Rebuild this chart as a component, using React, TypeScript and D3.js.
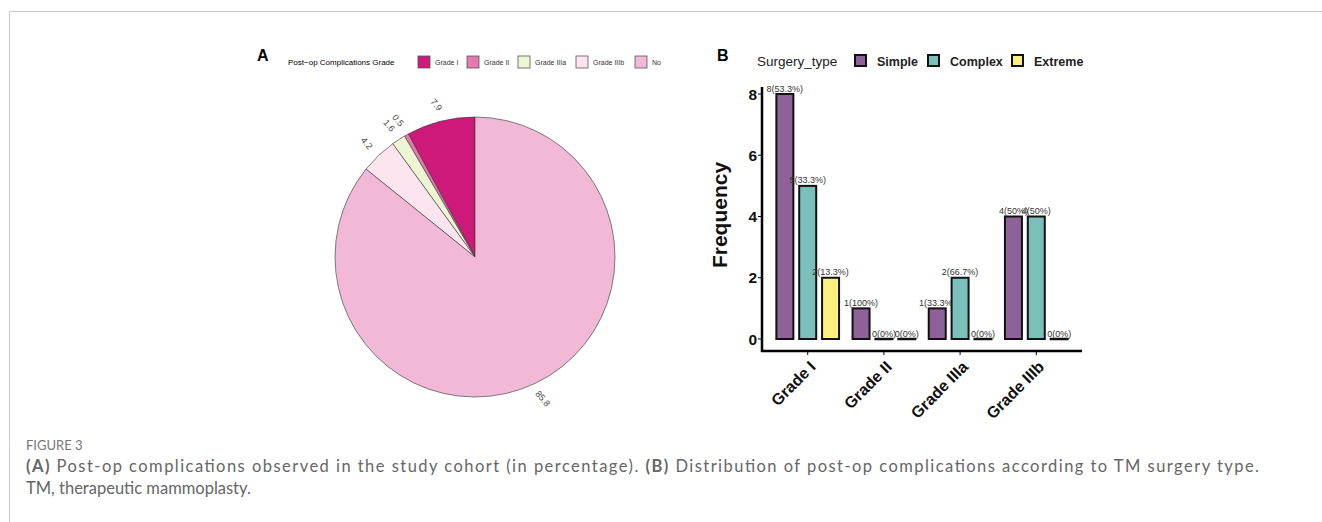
import React from 'react';
import * as d3 from 'd3';

// panel A: pie of complication grades (percent)
const pieGrades = ['Grade I', 'Grade II', 'Grade IIIa', 'Grade IIIb', 'No'];
const pieValues = [7.9, 0.5, 1.6, 4.2, 85.8];
const pieColors = ['#CD1A7A', '#E579AE', '#EEF5D4', '#FCE5EF', '#F1B9D6'];

// panel B: frequency by grade and surgery type
const barGrades = ['Grade I', 'Grade II', 'Grade IIIa', 'Grade IIIb'];
const surgeryTypes = ['Simple', 'Complex', 'Extreme'];
const simpleCounts = [8, 1, 1, 4];
const complexCounts = [5, 0, 2, 4];
const extremeCounts = [2, 0, 0, 0];
const simpleLabels = ['8(53.3%)', '1(100%)', '1(33.3%)', '4(50%)'];
const complexLabels = ['5(33.3%)', '0(0%)', '2(66.7%)', '4(50%)'];
const extremeLabels = ['2(13.3%)', '0(0%)', '0(0%)', '0(0%)'];
const typeColors = ['#8E6198', '#79C0BA', '#FBF07D'];
const yTicks = [0, 2, 4, 6, 8];

const W = 1322;
const H = 522;

const PiePanel = () => {
    const cx = 475;
    const cy = 257;
    const r = 140;
    const pie = d3
        .pie<number>()
        .sort(null)
        .startAngle(0)
        .endAngle(-2 * Math.PI);
    const arcs = pie(pieValues);
    const arc = d3.arc<d3.PieArcDatum<number>>().innerRadius(0).outerRadius(r);
    const labelArc = d3.arc<d3.PieArcDatum<number>>().innerRadius(157).outerRadius(157);

    const legendX = [418, 467, 518, 576, 635];

    return (
        <g>
            <text x={257} y={61} fontFamily="Arial, Liberation Sans, sans-serif" fontWeight="bold" fontSize={16}>A</text>
            <text x={288} y={65} fontFamily="Arial, Liberation Sans, sans-serif" fontSize={8}>Post−op Complications Grade</text>
            {pieGrades.map((g, i) => (
                <g key={g}>
                    <rect x={legendX[i]} y={56} width={12} height={12} fill={pieColors[i]} stroke="#555" strokeWidth={0.8} />
                    <text x={legendX[i] + 17} y={65} fontFamily="Arial, Liberation Sans, sans-serif" fontSize={7} fill="#333">{g}</text>
                </g>
            ))}
            <g transform={`translate(${cx},${cy})`}>
                {arcs.map((a, i) => (
                    <path key={i} d={arc(a) || ''} fill={pieColors[i]} stroke="#333" strokeWidth={0.6} />
                ))}
                {arcs.map((a, i) => {
                    const [lx, ly] = labelArc.centroid(a);
                    return (
                        <text
                            key={'l' + i}
                            transform={`translate(${lx},${ly}) rotate(50)`}
                            textAnchor="middle"
                            dy="0.35em"
                            fontFamily="Arial, Liberation Sans, sans-serif"
                            fontSize={9}
                            fill="#4d4d4d"
                        >
                            {pieValues[i].toFixed(1)}
                        </text>
                    );
                })}
            </g>
        </g>
    );
};

const BarPanel = () => {
    const left = 762;
    const right = 1082;
    const y = d3.scaleLinear().domain([0, 8]).range([339, 94]);
    const unit = (right - left) / (barGrades.length - 1 + 1.2);
    const x = d3
        .scalePoint<string>()
        .domain(barGrades)
        .range([left + 0.6 * unit, right - 0.6 * unit]);
    const slot = (unit * 0.9) / 3;
    const bw = 19;
    const counts = [simpleCounts, complexCounts, extremeCounts];
    const labels = [simpleLabels, complexLabels, extremeLabels];
    const font = 'Arial, Liberation Sans, sans-serif';

    const legendItems = [
        { x: 855, tx: 877 },
        { x: 928, tx: 950 },
        { x: 1012, tx: 1034 },
    ];

    return (
        <g>
            <text x={717} y={61} fontFamily={font} fontWeight="bold" fontSize={16}>B</text>
            <text x={757} y={66} fontFamily={font} fontSize={13.5} fill="#222">Surgery_type</text>
            {surgeryTypes.map((t, i) => (
                <g key={t}>
                    <rect x={legendItems[i].x} y={55} width={11} height={11} fill={typeColors[i]} stroke="#111" strokeWidth={2} />
                    <text x={legendItems[i].tx} y={66} fontFamily={font} fontWeight="bold" fontSize={12.5} fill="#222">{t}</text>
                </g>
            ))}

            {barGrades.map((g, gi) =>
                surgeryTypes.map((t, ti) => {
                    const cx = (x(g) as number) + (ti - 1) * slot;
                    const v = counts[ti][gi];
                    return (
                        <g key={g + t}>
                            {v > 0 ? (
                                <rect
                                    x={cx - bw / 2 + 1}
                                    y={y(v)}
                                    width={bw - 2}
                                    height={y(0) - y(v)}
                                    fill={typeColors[ti]}
                                    stroke="#111"
                                    strokeWidth={2}
                                />
                            ) : (
                                <line x1={cx - bw / 2} x2={cx + bw / 2} y1={y(0)} y2={y(0)} stroke="#111" strokeWidth={2.5} />
                            )}
                            <text
                                x={cx}
                                y={y(v) - 2.5}
                                textAnchor="middle"
                                fontFamily={font}
                                fontSize={9}
                                fill="#333"
                            >
                                {labels[ti][gi]}
                            </text>
                        </g>
                    );
                })
            )}

            {/* axes */}
            <line x1={left} x2={left} y1={87} y2={352} stroke="#000" strokeWidth={2.5} />
            <line x1={left - 1} x2={right} y1={351} y2={351} stroke="#000" strokeWidth={2.5} />
            {yTicks.map((t) => (
                <g key={t}>
                    <line x1={left - 4} x2={left} y1={y(t)} y2={y(t)} stroke="#000" strokeWidth={1} />
                    <text x={left - 5} y={y(t)} dy="0.36em" textAnchor="end" fontFamily={font} fontWeight="bold" fontSize={15.5} fill="#111">{t}</text>
                </g>
            ))}
            {barGrades.map((g) => (
                <g key={'xt' + g}>
                    <line x1={x(g)} x2={x(g)} y1={351} y2={355} stroke="#000" strokeWidth={1} />
                    <text
                        transform={`translate(${(x(g) as number) + 1},${360}) rotate(-45)`}
                        textAnchor="end"
                        dy="0.7em"
                        fontFamily={font}
                        fontWeight="bold"
                        fontSize={16}
                        fill="#111"
                    >
                        {g}
                    </text>
                </g>
            ))}
            <text
                transform={`translate(727,215) rotate(-90)`}
                textAnchor="middle"
                fontFamily={font}
                fontWeight="bold"
                fontSize={21}
                fill="#111"
            >
                Frequency
            </text>
        </g>
    );
};

const App = () => {
    const capFont = 'Lato, Noto Sans, sans-serif';
    return (
        <svg
            width={W}
            height={H}
            style={{ position: 'absolute', left: 0, top: 0, background: '#fff' }}
        >
            <line x1={9.5} x2={9.5} y1={11} y2={H} stroke="#ccc" strokeWidth={1} />
            <line x1={9} x2={W} y1={11.5} y2={11.5} stroke="#ccc" strokeWidth={1} />
            <PiePanel />
            <BarPanel />
            <text x={26} y={450} fontFamily={capFont} fontSize={13} fill="#777">FIGURE 3</text>
            <text x={26} y={472} fontFamily={capFont} fontSize={16.5} fill="#666" textLength={1233} lengthAdjust="spacing">
                <tspan fontWeight="bold">(A)</tspan> Post-op complications observed in the study cohort (in percentage). <tspan fontWeight="bold">(B)</tspan> Distribution of post-op complications according to TM surgery type.
            </text>
            <text x={26} y={494} fontFamily={capFont} fontSize={16.5} fill="#666">TM, therapeutic mammoplasty.</text>
        </svg>
    );
};

export default App;
